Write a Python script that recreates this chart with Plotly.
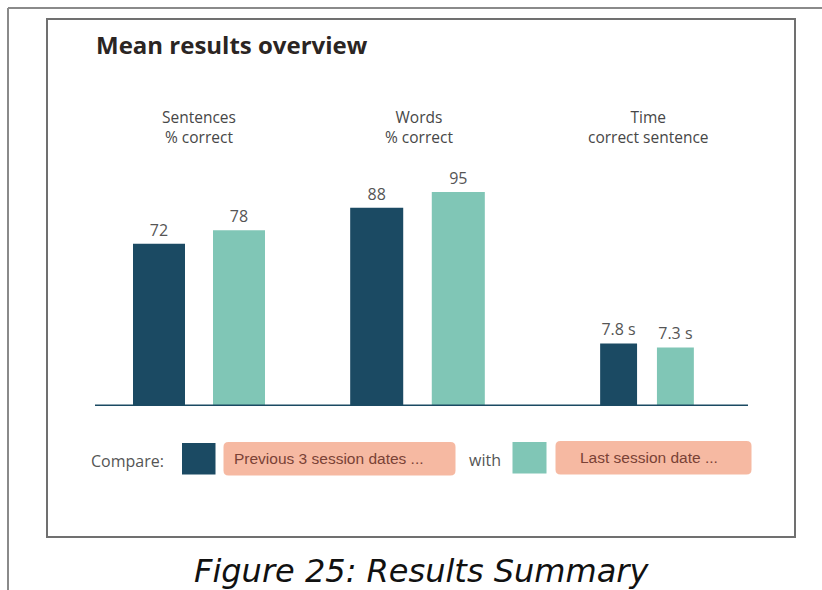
import plotly.graph_objects as go

# ---------------- data ----------------
panel_keys = ["Sentences", "Words", "Time"]
panel_headers = ["Sentences<br>% correct", "Words<br>% correct", "Time<br>correct sentence"]
series_names = ["Previous 3 session dates ...", "Last session date ..."]
previous_values = [72, 88, 7.8]
last_values = [78, 95, 7.3]
value_suffix = ["", "", " s"]
title_text = "Mean results overview"
caption_text = "Figure 25: Results Summary"
compare_text = "Compare:"
with_text = "with"

# ---------------- styling / layout ----------------
W, H = 822, 590
DARK = "#1b4a63"
TEAL = "#80c6b6"
SALMON = "#f6b9a2"
series_colors = [DARK, TEAL]


def X(px):
    return px / W


def Y(py):
    return 1 - py / H


# pixel domains for the three panels
panel_domains_px = [(99, 299), (315.5, 519.5), (576, 718)]
plot_top_px, plot_bottom_px = 150, 406
panel_xaxes = ["x", "x2", "x3"]
panel_yaxes = ["y", "y", "y2"]

fig = go.Figure()
all_values = [previous_values, last_values]
for i, key in enumerate(panel_keys):
    for s, name in enumerate(series_names):
        v = all_values[s][i]
        fig.add_trace(go.Bar(
            x=[key], y=[v], name=name,
            xaxis=panel_xaxes[i], yaxis=panel_yaxes[i],
            marker=dict(color=series_colors[s], line=dict(width=0)),
            text=[f"{v:g}{value_suffix[i]}"],
            textposition="outside",
            constraintext="none",
            cliponaxis=False,
            textfont=dict(family="Open Sans", size=16, color="#555555"),
            showlegend=False,
            hoverinfo="skip",
        ))

hidden = dict(showgrid=False, zeroline=False, showline=False, showticklabels=False,
              ticks="", fixedrange=True)
ydom = [Y(plot_bottom_px), Y(plot_top_px)]
layout_axes = {}
for i, ax in enumerate(["xaxis", "xaxis2", "xaxis3"]):
    d0, d1 = panel_domains_px[i]
    layout_axes[ax] = dict(domain=[X(d0), X(d1)], range=[-0.5, 0.5], type="category",
                           anchor="y" if i < 2 else "y2", **hidden)
layout_axes["yaxis"] = dict(domain=ydom, range=[0, 113.6], anchor="x", **hidden)
layout_axes["yaxis2"] = dict(domain=ydom, range=[0, 31.9], anchor="x3", **hidden)

shapes = []
# outer frame lines (top and left)
shapes.append(dict(type="line", xref="paper", yref="paper", x0=X(8), x1=1, y0=Y(8), y1=Y(8),
                   line=dict(color="#8a8a8a", width=2)))
shapes.append(dict(type="line", xref="paper", yref="paper", x0=X(8), x1=X(8), y0=Y(8), y1=0,
                   line=dict(color="#8a8a8a", width=2)))
# inner card border
shapes.append(dict(type="rect", xref="paper", yref="paper", x0=X(47), x1=X(795), y0=Y(537), y1=Y(19),
                   line=dict(color="#707070", width=2), layer="below"))
# baseline
shapes.append(dict(type="line", xref="paper", yref="y", x0=X(95), x1=X(748), y0=0, y1=0,
                   line=dict(color=DARK, width=3)))


def rrect(x0, y0, x1, y1, r):
    return (f"M {X(x0 + r)},{Y(y0)} L {X(x1 - r)},{Y(y0)} "
            f"Q {X(x1)},{Y(y0)} {X(x1)},{Y(y0 + r)} L {X(x1)},{Y(y1 - r)} "
            f"Q {X(x1)},{Y(y1)} {X(x1 - r)},{Y(y1)} L {X(x0 + r)},{Y(y1)} "
            f"Q {X(x0)},{Y(y1)} {X(x0)},{Y(y1 - r)} L {X(x0)},{Y(y0 + r)} "
            f"Q {X(x0)},{Y(y0)} {X(x0 + r)},{Y(y0)} Z")


# legend swatches and label boxes
swatches = [(182, 443, 215.5, 474.5), (512.5, 442, 546.5, 473.5)]
label_boxes = [(223.5, 442, 455.5, 475.5), (555.5, 441, 751.5, 474.5)]
label_text_offsets = [-11, -5]
for s in range(2):
    a, b, c, d = swatches[s]
    shapes.append(dict(type="rect", xref="paper", yref="paper", x0=X(a), x1=X(c), y0=Y(d), y1=Y(b),
                       fillcolor=series_colors[s], line=dict(width=0)))
    a, b, c, d = label_boxes[s]
    shapes.append(dict(type="path", xref="paper", yref="paper", path=rrect(a, b, c, d, 5),
                       fillcolor=SALMON, line=dict(width=0)))

annotations = []
annotations.append(dict(text=f"<b>{title_text}</b>", x=X(94), y=Y(44), xref="paper", yref="paper",
                        xanchor="left", yanchor="middle", showarrow=False,
                        font=dict(family="Open Sans", size=24, color="#2b2523", weight=800)))
header_centers = [199, 419, 648]
for i, h in enumerate(panel_headers):
    annotations.append(dict(text=h, x=X(header_centers[i]), y=Y(127), xref="paper", yref="paper",
                            xanchor="center", yanchor="middle", showarrow=False,
                            font=dict(family="Open Sans", size=15.5, color="#474747")))
annotations.append(dict(text=compare_text, x=X(89), y=Y(461), xref="paper", yref="paper",
                        xanchor="left", yanchor="middle", showarrow=False,
                        font=dict(family="Open Sans", size=16, color="#555555")))
annotations.append(dict(text=with_text, x=X(485), y=Y(460), xref="paper", yref="paper",
                        xanchor="center", yanchor="middle", showarrow=False,
                        font=dict(family="Open Sans", size=16, color="#555555")))
for s in range(2):
    a, b, c, d = label_boxes[s]
    annotations.append(dict(text=series_names[s], x=X((a + c) / 2 + label_text_offsets[s]),
                            y=Y((b + d) / 2), xref="paper", yref="paper",
                            xanchor="center", yanchor="middle", showarrow=False,
                            font=dict(family="Liberation Sans", size=15.5, color="#7a4236")))
annotations.append(dict(text=caption_text, x=X(421), y=Y(571), xref="paper", yref="paper",
                        xanchor="center", yanchor="middle", showarrow=False,
                        font=dict(family="DejaVu Sans", size=32, color="#111111", style="italic")))

fig.update_layout(
    width=W, height=H,
    margin=dict(l=0, r=0, t=0, b=0),
    paper_bgcolor="white", plot_bgcolor="rgba(0,0,0,0)",
    barmode="group", bargap=0.2, bargroupgap=0.35,
    shapes=shapes, annotations=annotations,
    showlegend=False,
    **layout_axes,
)

fig.write_html("out.html", config={"displayModeBar": False})
